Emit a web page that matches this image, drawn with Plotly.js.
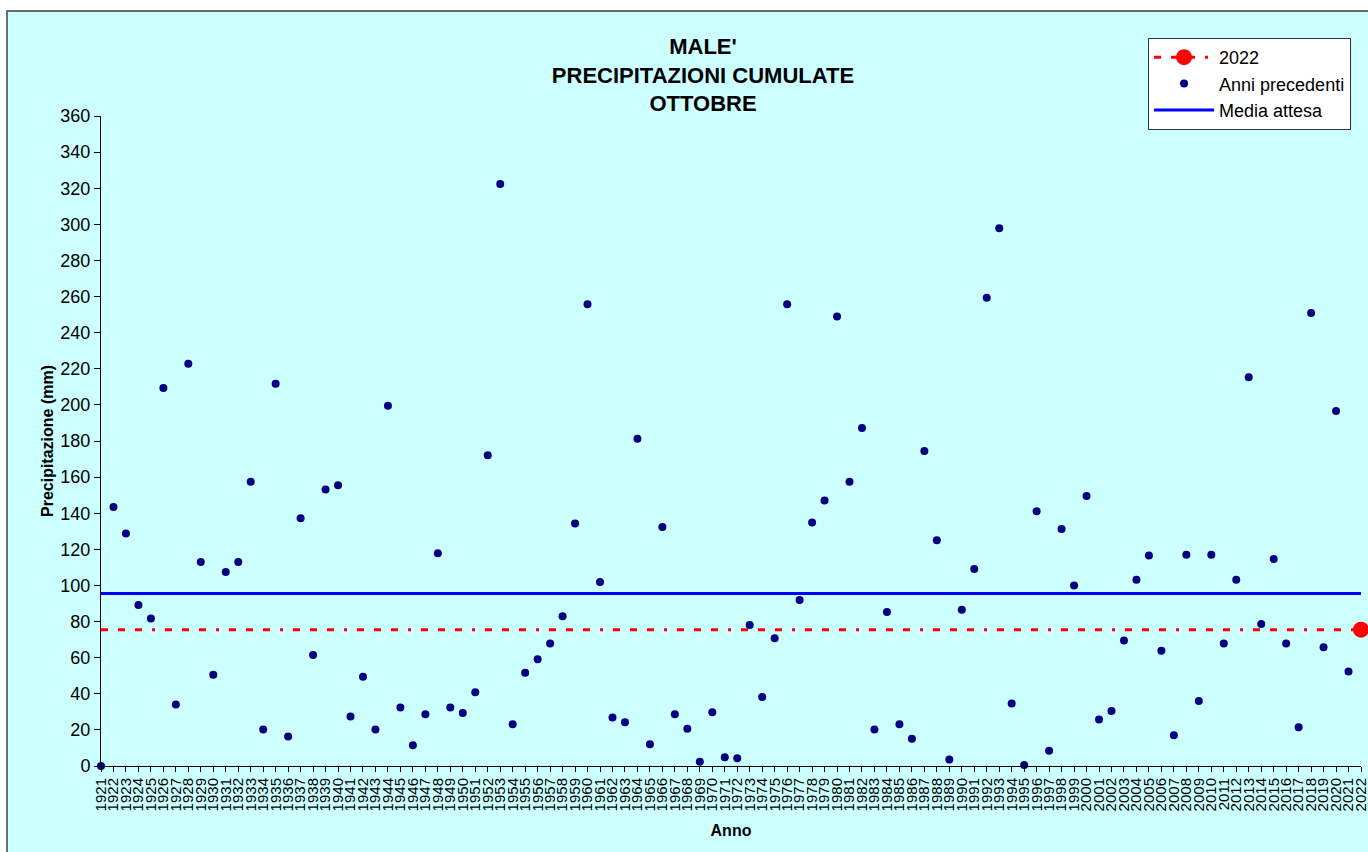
<!DOCTYPE html>
<html>
<head>
<meta charset="utf-8">
<script src="https://cdn.plot.ly/plotly-3.0.1.min.js"></script>
<style>
  html, body { margin: 0; padding: 0; background: #ffffff; overflow: hidden; width: 1368px; height: 852px; }
  #wrap { position: absolute; left: 6px; top: 10px; border-left: 2px solid #6e6e6e; border-top: 2px solid #6e6e6e; width: 1370px; height: 840px; background: #ccffff; }
  #chart { width: 1370px; height: 840px; }
</style>
</head>
<body>
<div id="wrap"><div id="chart"></div></div>
<script>
// ---- data ----
const years = [1921,1922,1923,1924,1925,1926,1927,1928,1929,1930,
  1931,1932,1933,1934,1935,1936,1937,1938,1939,1940,
  1941,1942,1943,1944,1945,1946,1947,1948,1949,1950,
  1951,1952,1953,1954,1955,1956,1957,1958,1959,1960,
  1961,1962,1963,1964,1965,1966,1967,1968,1969,1970,
  1971,1972,1973,1974,1975,1976,1977,1978,1979,1980,
  1981,1982,1983,1984,1985,1986,1987,1988,1989,1990,
  1991,1992,1993,1994,1995,1996,1997,1998,1999,2000,
  2001,2002,2003,2004,2005,2006,2007,2008,2009,2010,
  2011,2012,2013,2014,2015,2016,2017,2018,2019,2020,
  2021,2022];
const previousYears = years.slice(0, 101);
const previousValues = [0,143.5,128.8,89.2,81.7,209.3,34.1,222.8,113.0,50.5,
  107.4,113.0,157.4,20.2,211.7,16.3,137.2,61.5,153.1,155.5,
  27.4,49.5,20.2,199.5,32.4,11.5,28.6,117.8,32.4,29.3,
  40.9,172.1,322.3,23.1,51.7,59.1,67.8,82.9,134.3,255.7,
  101.9,26.9,24.3,181.2,12.0,132.4,28.6,20.7,2.4,29.8,
  4.8,4.3,78.1,38.2,70.7,255.7,92.0,134.8,147.1,249.0,
  157.4,187.2,20.2,85.3,23.1,15.1,174.5,125.0,3.6,86.5,
  109.1,259.3,297.8,34.6,0.5,141.1,8.4,131.2,100.0,149.5,
  25.7,30.5,69.5,103.1,116.6,63.9,17.1,117.0,36.0,117.0,
  67.8,103.1,215.3,78.6,114.6,67.8,21.4,250.9,65.8,196.6,
  52.4];
const year2022 = 2022;
const value2022 = 75.5;
const mediaAttesa = 95.6;
const yTicks = [0,20,40,60,80,100,120,140,160,180,200,220,240,260,280,300,320,340,360];
const tickLabels = years.map(String);
const titleLines = ["MALE'", "PRECIPITAZIONI CUMULATE", "OTTOBRE"];

const FONT = '"Liberation Sans", Arial, sans-serif';
const firstYear = years[0], lastYear = years[years.length - 1];
const DASH = '7px,10px,7px,10px,7px,10px,3px,10px';

const traces = [
  {
    x: [firstYear, lastYear], y: [mediaAttesa, mediaAttesa],
    mode: 'lines', name: 'Media attesa', legendrank: 3,
    line: { color: '#0000ff', width: 3 }, hoverinfo: 'skip'
  },
  {
    x: [firstYear, lastYear], y: [value2022, value2022],
    mode: 'lines', name: '2022 line', showlegend: false, legendgroup: 'y2022',
    line: { color: '#ff0000', width: 3, dash: DASH }, hoverinfo: 'skip'
  },
  {
    x: previousYears, y: previousValues,
    mode: 'markers', name: 'Anni precedenti', legendrank: 2,
    marker: { color: '#000080', size: 8, symbol: 'circle' },
    cliponaxis: false
  },
  {
    x: [year2022], y: [value2022],
    mode: 'lines+markers', name: '2022', legendrank: 1, legendgroup: 'y2022',
    line: { color: '#ff0000', width: 3, dash: DASH },
    marker: { color: '#ff0000', size: 16, symbol: 'circle' },
    cliponaxis: false
  }
];

const layout = {
  width: 1370, height: 840,
  margin: { l: 93, r: 17, t: 104, b: 86 },
  paper_bgcolor: 'rgba(0,0,0,0)',
  plot_bgcolor: 'rgba(0,0,0,0)',
  font: { family: FONT, color: '#000000' },
  title: {
    text: '<b>' + titleLines.join('<br>') + '</b>',
    font: { family: FONT, size: 22, color: '#000000' },
    x: 695 / 1370, xanchor: 'center', xref: 'container',
    y: 0.95, yanchor: 'top', yref: 'container'
  },
  showlegend: true,
  legend: {
    x: 0.831, y: 1.12, xanchor: 'left', yanchor: 'top',
    bgcolor: '#ffffff', bordercolor: '#333333', borderwidth: 1,
    font: { family: FONT, size: 18, color: '#000000' },
    itemwidth: 60, tracegroupgap: 0
  },
  xaxis: {
    range: [firstYear, lastYear],
    tickmode: 'array', tickvals: years, ticktext: tickLabels,
    tickangle: -90, tickfont: { family: FONT, size: 15, color: '#000000' },
    ticklabeloverflow: 'allow',
    ticks: 'outside', ticklen: 5, tickcolor: '#000000',
    showline: true, linecolor: '#000000', linewidth: 1,
    showgrid: false, zeroline: false,
    title: { text: '<b>Anno</b>', font: { family: FONT, size: 16, color: '#000000' }, standoff: 14 }
  },
  yaxis: {
    range: [0, 360],
    tickmode: 'array', tickvals: yTicks,
    tickfont: { family: FONT, size: 18, color: '#000000' },
    ticks: 'outside', ticklen: 6, tickcolor: '#000000',
    showline: true, linecolor: '#000000', linewidth: 1,
    showgrid: false, zeroline: false,
    title: { text: '<b>Precipitazione (mm)</b>', font: { family: FONT, size: 16, color: '#000000' }, standoff: 2 }
  }
};

Plotly.newPlot('chart', traces, layout, { displayModeBar: false, staticPlot: true });
</script>
</body>
</html>
